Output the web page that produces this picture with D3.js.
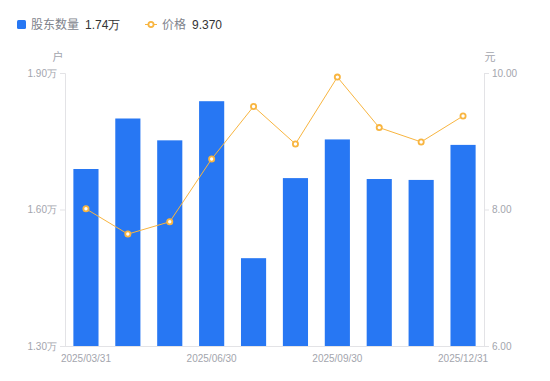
<!DOCTYPE html>
<html><head><meta charset="utf-8">
<script src="https://cdn.jsdelivr.net/npm/d3@7"></script>
<style>body{margin:0;background:#fff;font-family:"Noto Sans CJK SC","Noto Sans",sans-serif;}</style>
</head><body><svg id="c" width="550" height="381"></svg>
<script>
const categories = ["2025/03/31","2025/04/30","2025/05/31","2025/06/30","2025/07/31","2025/08/31","2025/09/30","2025/10/31","2025/11/30","2025/12/31"];
const holders = [1.689, 1.800, 1.752, 1.838, 1.493, 1.669, 1.754, 1.667, 1.665, 1.742];
const prices = [8.01, 7.64, 7.82, 8.74, 9.51, 8.96, 9.94, 9.20, 8.99, 9.37];
const leftTicks = [1.30, 1.60, 1.90];
const rightTicks = [6.00, 8.00, 10.00];
const shownLabels = ["2025/03/31","2025/06/30","2025/09/30","2025/12/31"];

const svg = d3.select("#c");
const m = {l:65, r:484, t:73, b:346};
const x = d3.scaleBand().domain(categories).range([m.l, m.r]).paddingInner(0.4).paddingOuter(0.2);
const yL = d3.scaleLinear().domain([1.30,1.90]).range([m.b, m.t]);
const yR = d3.scaleLinear().domain([6,10]).range([m.b, m.t]);
const axisCol = "#e3e3e6", txtCol = "#a3a5ad";
const numFont = "'Liberation Sans',Arial,sans-serif";

// bars
svg.append("g").selectAll("rect").data(holders).join("rect")
  .attr("x",(d,i)=>x(categories[i])).attr("width",x.bandwidth())
  .attr("y",d=>yL(d)).attr("height",d=>m.b-yL(d)).attr("fill","#2777f3");

// axes
const gl = svg.append("g").attr("transform",`translate(${m.l},0)`)
  .call(d3.axisLeft(yL).tickValues(leftTicks).tickSize(5).tickPadding(3).tickFormat(d=>d3.format(".2f")(d)+"万"));
const gr = svg.append("g").attr("transform",`translate(${m.r},0)`)
  .call(d3.axisRight(yR).tickValues(rightTicks).tickSize(5).tickPadding(3).tickFormat(d3.format(".2f")));
const gb = svg.append("g").attr("transform",`translate(0,${m.b})`)
  .call(d3.axisBottom(x).tickValues(shownLabels).tickSize(0).tickPadding(9));
[gl,gr,gb].forEach(g=>{
  g.selectAll("path,line").attr("stroke",axisCol);
  g.selectAll("text").attr("fill",txtCol).style("font-size","10px").style("font-family",numFont);
});
gb.select("path.domain").attr("d",`M${m.l},0.5H${m.r}`);
gl.select("path.domain").attr("d",`M-5,${m.t}.5H0.5V${m.b}`);
gr.select("path.domain").attr("d",`M5,${m.t}.5H0.5V${m.b}`);

svg.append("text").attr("x",58).attr("y",61).attr("text-anchor","middle").attr("fill",txtCol).style("font-size","11px").text("户");
svg.append("text").attr("x",490).attr("y",61).attr("text-anchor","middle").attr("fill",txtCol).style("font-size","11px").text("元");

// line
const cx = i => x(categories[i]) + x.bandwidth()/2;
const lineCol = "#f8b540";
svg.append("path").datum(prices).attr("fill","none").attr("stroke",lineCol).attr("stroke-width",1)
  .attr("d",d3.line().x((d,i)=>cx(i)).y(d=>yR(d)));
svg.append("g").selectAll("circle").data(prices).join("circle")
  .attr("cx",(d,i)=>cx(i)).attr("cy",d=>yR(d)).attr("r",2.6)
  .attr("fill","#fff").attr("stroke",lineCol).attr("stroke-width",1.8);

// legend
const lg = svg.append("g");
lg.append("rect").attr("x",17).attr("y",20).attr("width",9).attr("height",9).attr("rx",1.5).attr("fill","#2777f3");
lg.append("text").attr("x",31).attr("y",29).attr("fill","#80838c").style("font-size","12px").text("股东数量");
lg.append("text").attr("x",85).attr("y",29).attr("fill","#333").style("font-size","12px").style("font-family",numFont).text(d3.format(".2f")(holders[holders.length-1])+"万");
lg.append("line").attr("x1",145).attr("x2",157).attr("y1",24.5).attr("y2",24.5).attr("stroke",lineCol).attr("stroke-width",1);
lg.append("circle").attr("cx",151).attr("cy",24.5).attr("r",2.6).attr("fill","#fff").attr("stroke",lineCol).attr("stroke-width",1.8);
lg.append("text").attr("x",162).attr("y",29).attr("fill","#80838c").style("font-size","12px").text("价格");
lg.append("text").attr("x",192).attr("y",29).attr("fill","#333").style("font-size","12px").style("font-family",numFont).text(d3.format(".3f")(prices[prices.length-1]));
</script></body></html>
